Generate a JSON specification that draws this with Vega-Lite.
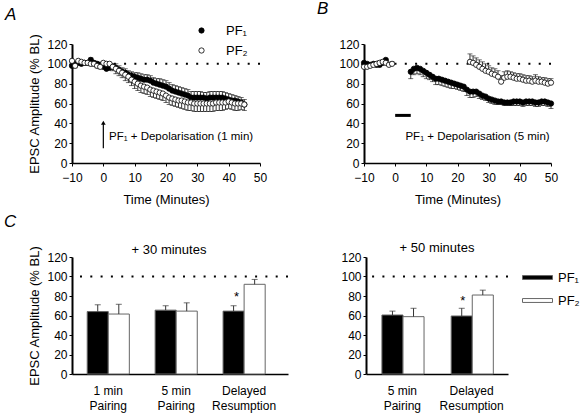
{
  "$schema": "https://vega.github.io/schema/vega-lite/v6.json",
  "padding": {"left": 3, "top": 0, "right": 2, "bottom": 2},
  "background": "white",
  "config": {
    "font": "Liberation Sans",
    "view": {"stroke": null},
    "axis": {"grid": false, "labelOverlap": false, "labelFlush": false, "labelSeparation": -40, "domainColor": "black", "tickColor": "black", "labelColor": "black", "titleColor": "black", "labelFontSize": 12, "titleFontSize": 13, "titleFontWeight": "normal", "labelFont": "Liberation Sans", "titleFont": "Liberation Sans", "domainWidth": 1.5, "tickSize": 3},
    "axisQuantitative": {"labelOverlap": false, "tickCount": 7},
    "title": {"font": "Liberation Sans", "fontWeight": "normal", "color": "black"},
    "legend": {"labelFont": "Liberation Sans", "labelColor": "black", "labelFontSize": 13}
  },
  "datasets": {
    "tsA": [
      {"t":-10,"s":"PF₁","v":98,"eb":100},{"t":-9,"s":"PF₁","v":100,"eb":102},{"t":-8,"s":"PF₁","v":101,"eb":103},{"t":-7,"s":"PF₁","v":100,"eb":102},{"t":-6,"s":"PF₁","v":101,"eb":103},{"t":-5,"s":"PF₁","v":101,"eb":103},{"t":-4,"s":"PF₁","v":104,"eb":106},{"t":-3,"s":"PF₁","v":101,"eb":103},{"t":-2,"s":"PF₁","v":100,"eb":102},{"t":-1,"s":"PF₁","v":99,"eb":101},
      {"t":0,"s":"PF₁","v":97,"eb":100},{"t":1,"s":"PF₁","v":95,"eb":98},{"t":2,"s":"PF₁","v":96,"eb":99},{"t":3,"s":"PF₁","v":97,"eb":100},{"t":4,"s":"PF₁","v":96,"eb":100},{"t":5,"s":"PF₁","v":94,"eb":98},{"t":6,"s":"PF₁","v":92,"eb":96},{"t":7,"s":"PF₁","v":91,"eb":95},{"t":8,"s":"PF₁","v":89,"eb":93},{"t":9,"s":"PF₁","v":88,"eb":92},
      {"t":10,"s":"PF₁","v":87,"eb":91},{"t":11,"s":"PF₁","v":86,"eb":91},{"t":12,"s":"PF₁","v":85,"eb":90},{"t":13,"s":"PF₁","v":84,"eb":89},{"t":14,"s":"PF₁","v":84,"eb":89},{"t":15,"s":"PF₁","v":83,"eb":88},{"t":16,"s":"PF₁","v":81,"eb":86},{"t":17,"s":"PF₁","v":80,"eb":85},{"t":18,"s":"PF₁","v":79,"eb":85},{"t":19,"s":"PF₁","v":78,"eb":84},
      {"t":20,"s":"PF₁","v":77,"eb":83},{"t":21,"s":"PF₁","v":75,"eb":81},{"t":22,"s":"PF₁","v":73,"eb":79},{"t":23,"s":"PF₁","v":72,"eb":78},{"t":24,"s":"PF₁","v":71,"eb":77},{"t":25,"s":"PF₁","v":70,"eb":76},{"t":26,"s":"PF₁","v":69,"eb":75},{"t":27,"s":"PF₁","v":68,"eb":74},{"t":28,"s":"PF₁","v":66,"eb":72},{"t":29,"s":"PF₁","v":66,"eb":72},
      {"t":30,"s":"PF₁","v":66,"eb":72},{"t":31,"s":"PF₁","v":66,"eb":72},{"t":32,"s":"PF₁","v":66,"eb":71},{"t":33,"s":"PF₁","v":65,"eb":71},{"t":34,"s":"PF₁","v":66,"eb":72},{"t":35,"s":"PF₁","v":66,"eb":72},{"t":36,"s":"PF₁","v":66,"eb":72},{"t":37,"s":"PF₁","v":66,"eb":72},{"t":38,"s":"PF₁","v":66,"eb":72},{"t":39,"s":"PF₁","v":65,"eb":71},
      {"t":40,"s":"PF₁","v":64,"eb":70},{"t":41,"s":"PF₁","v":63,"eb":69},{"t":42,"s":"PF₁","v":63,"eb":68},{"t":43,"s":"PF₁","v":62,"eb":67},{"t":44,"s":"PF₁","v":61,"eb":66},{"t":45,"s":"PF₁","v":59,"eb":64},
      {"t":-10,"s":"PF₂","v":103,"eb":101},{"t":-9,"s":"PF₂","v":98,"eb":96},{"t":-8,"s":"PF₂","v":103,"eb":101},{"t":-7,"s":"PF₂","v":102,"eb":100},{"t":-6,"s":"PF₂","v":101,"eb":99},{"t":-5,"s":"PF₂","v":101,"eb":99},{"t":-4,"s":"PF₂","v":100,"eb":98},{"t":-3,"s":"PF₂","v":100,"eb":98},{"t":-2,"s":"PF₂","v":98,"eb":96},{"t":-1,"s":"PF₂","v":97,"eb":95},
      {"t":0,"s":"PF₂","v":101,"eb":98},{"t":1,"s":"PF₂","v":100,"eb":97},{"t":2,"s":"PF₂","v":100,"eb":96},{"t":3,"s":"PF₂","v":97,"eb":93},{"t":4,"s":"PF₂","v":95,"eb":90},{"t":5,"s":"PF₂","v":93,"eb":88},{"t":6,"s":"PF₂","v":91,"eb":86},{"t":7,"s":"PF₂","v":89,"eb":83},{"t":8,"s":"PF₂","v":87,"eb":81},{"t":9,"s":"PF₂","v":84,"eb":78},
      {"t":10,"s":"PF₂","v":82,"eb":75},{"t":11,"s":"PF₂","v":80,"eb":73},{"t":12,"s":"PF₂","v":78,"eb":71},{"t":13,"s":"PF₂","v":77,"eb":70},{"t":14,"s":"PF₂","v":76,"eb":69},{"t":15,"s":"PF₂","v":74,"eb":67},{"t":16,"s":"PF₂","v":73,"eb":66},{"t":17,"s":"PF₂","v":72,"eb":65},{"t":18,"s":"PF₂","v":71,"eb":64},{"t":19,"s":"PF₂","v":70,"eb":63},
      {"t":20,"s":"PF₂","v":68,"eb":61},{"t":21,"s":"PF₂","v":66,"eb":59},{"t":22,"s":"PF₂","v":65,"eb":58},{"t":23,"s":"PF₂","v":64,"eb":57},{"t":24,"s":"PF₂","v":63,"eb":56},{"t":25,"s":"PF₂","v":63,"eb":55},{"t":26,"s":"PF₂","v":62,"eb":54},{"t":27,"s":"PF₂","v":61,"eb":53},{"t":28,"s":"PF₂","v":61,"eb":53},{"t":29,"s":"PF₂","v":60,"eb":52},
      {"t":30,"s":"PF₂","v":60,"eb":52},{"t":31,"s":"PF₂","v":60,"eb":52},{"t":32,"s":"PF₂","v":60,"eb":52},{"t":33,"s":"PF₂","v":60,"eb":52},{"t":34,"s":"PF₂","v":60,"eb":52},{"t":35,"s":"PF₂","v":60,"eb":52},{"t":36,"s":"PF₂","v":61,"eb":53},{"t":37,"s":"PF₂","v":61,"eb":53},{"t":38,"s":"PF₂","v":61,"eb":53},{"t":39,"s":"PF₂","v":61,"eb":54},
      {"t":40,"s":"PF₂","v":62,"eb":55},{"t":41,"s":"PF₂","v":61,"eb":54},{"t":42,"s":"PF₂","v":60,"eb":53},{"t":43,"s":"PF₂","v":60,"eb":53},{"t":44,"s":"PF₂","v":60,"eb":54},{"t":45,"s":"PF₂","v":59,"eb":53}
    ],
    "tsB": [
      {"t":-10,"s":"PF₁","v":101,"eb":99},{"t":-9,"s":"PF₁","v":100,"eb":98},{"t":-8,"s":"PF₁","v":99,"eb":97},{"t":-7,"s":"PF₁","v":100,"eb":98},{"t":-6,"s":"PF₁","v":99,"eb":97},{"t":-5,"s":"PF₁","v":99,"eb":97},{"t":-4,"s":"PF₁","v":101,"eb":99},{"t":-3,"s":"PF₁","v":104,"eb":102},
      {"t":5,"s":"PF₁","v":92,"eb":85},{"t":6,"s":"PF₁","v":95,"eb":89},{"t":7,"s":"PF₁","v":96,"eb":90},{"t":8,"s":"PF₁","v":95,"eb":89},{"t":9,"s":"PF₁","v":93,"eb":87},{"t":10,"s":"PF₁","v":91,"eb":85},{"t":11,"s":"PF₁","v":89,"eb":84},{"t":12,"s":"PF₁","v":87,"eb":82},{"t":13,"s":"PF₁","v":85,"eb":79},{"t":14,"s":"PF₁","v":85,"eb":79},
      {"t":15,"s":"PF₁","v":84,"eb":78},{"t":16,"s":"PF₁","v":83,"eb":77},{"t":17,"s":"PF₁","v":82,"eb":76},{"t":18,"s":"PF₁","v":81,"eb":75},{"t":19,"s":"PF₁","v":80,"eb":75},{"t":20,"s":"PF₁","v":79,"eb":74},{"t":21,"s":"PF₁","v":78,"eb":73},{"t":22,"s":"PF₁","v":77,"eb":72},{"t":23,"s":"PF₁","v":74,"eb":68},{"t":24,"s":"PF₁","v":72,"eb":66},
      {"t":25,"s":"PF₁","v":72,"eb":66},{"t":26,"s":"PF₁","v":72,"eb":67},{"t":27,"s":"PF₁","v":70,"eb":65},{"t":28,"s":"PF₁","v":68,"eb":64},{"t":29,"s":"PF₁","v":67,"eb":63},{"t":30,"s":"PF₁","v":65,"eb":61},{"t":31,"s":"PF₁","v":64,"eb":60},{"t":32,"s":"PF₁","v":63,"eb":59},{"t":33,"s":"PF₁","v":62,"eb":59},{"t":34,"s":"PF₁","v":62,"eb":59},
      {"t":35,"s":"PF₁","v":61,"eb":58},{"t":36,"s":"PF₁","v":61,"eb":58},{"t":37,"s":"PF₁","v":61,"eb":58},{"t":38,"s":"PF₁","v":62,"eb":58},{"t":39,"s":"PF₁","v":62,"eb":58},{"t":40,"s":"PF₁","v":62,"eb":58},{"t":41,"s":"PF₁","v":61,"eb":57},{"t":42,"s":"PF₁","v":62,"eb":58},{"t":43,"s":"PF₁","v":62,"eb":58},{"t":44,"s":"PF₁","v":62,"eb":58},
      {"t":45,"s":"PF₁","v":61,"eb":57},{"t":46,"s":"PF₁","v":61,"eb":57},{"t":47,"s":"PF₁","v":62,"eb":58},{"t":48,"s":"PF₁","v":62,"eb":58},{"t":49,"s":"PF₁","v":61,"eb":57},{"t":50,"s":"PF₁","v":60,"eb":55},
      {"t":-10,"s":"PF₂","v":97,"eb":99},{"t":-9,"s":"PF₂","v":97,"eb":99},{"t":-8,"s":"PF₂","v":98,"eb":100},{"t":-7,"s":"PF₂","v":99,"eb":101},{"t":-6,"s":"PF₂","v":100,"eb":102},{"t":-5,"s":"PF₂","v":101,"eb":103},{"t":-4,"s":"PF₂","v":102,"eb":104},{"t":-3,"s":"PF₂","v":101,"eb":103},{"t":-2,"s":"PF₂","v":99,"eb":101},{"t":-1,"s":"PF₂","v":100,"eb":102},
      {"t":24,"s":"PF₂","v":102,"eb":110},{"t":25,"s":"PF₂","v":101,"eb":108},{"t":26,"s":"PF₂","v":99,"eb":106},{"t":27,"s":"PF₂","v":97,"eb":104},{"t":28,"s":"PF₂","v":95,"eb":102},{"t":29,"s":"PF₂","v":93,"eb":100},{"t":30,"s":"PF₂","v":92,"eb":98},{"t":31,"s":"PF₂","v":90,"eb":96},{"t":32,"s":"PF₂","v":89,"eb":95},{"t":33,"s":"PF₂","v":87,"eb":93},
      {"t":34,"s":"PF₂","v":82,"eb":88},{"t":35,"s":"PF₂","v":86,"eb":92},{"t":36,"s":"PF₂","v":87,"eb":93},{"t":37,"s":"PF₂","v":87,"eb":92},{"t":38,"s":"PF₂","v":86,"eb":91},{"t":39,"s":"PF₂","v":85,"eb":90},{"t":40,"s":"PF₂","v":85,"eb":90},{"t":41,"s":"PF₂","v":84,"eb":89},{"t":42,"s":"PF₂","v":83,"eb":88},{"t":43,"s":"PF₂","v":83,"eb":88},
      {"t":44,"s":"PF₂","v":82,"eb":87},{"t":45,"s":"PF₂","v":83,"eb":89},{"t":46,"s":"PF₂","v":82,"eb":87},{"t":47,"s":"PF₂","v":82,"eb":86},{"t":48,"s":"PF₂","v":81,"eb":86},{"t":49,"s":"PF₂","v":80,"eb":85},{"t":50,"s":"PF₂","v":81,"eb":85}
    ],
    "c30": [
      {"cat":"1 min|Pairing","s":"PF₁","v":64,"eb":71},{"cat":"1 min|Pairing","s":"PF₂","v":61.5,"eb":71.5},
      {"cat":"5 min|Pairing","s":"PF₁","v":65.5,"eb":70},{"cat":"5 min|Pairing","s":"PF₂","v":64.5,"eb":73},
      {"cat":"Delayed|Resumption","s":"PF₁","v":64.5,"eb":70},{"cat":"Delayed|Resumption","s":"PF₂","v":92,"eb":97}
    ],
    "c50": [
      {"cat":"5 min|Pairing","s":"PF₁","v":60.5,"eb":64.5},{"cat":"5 min|Pairing","s":"PF₂","v":58.8,"eb":67.4},
      {"cat":"Delayed|Resumption","s":"PF₁","v":59.5,"eb":67.4},{"cat":"Delayed|Resumption","s":"PF₂","v":81,"eb":86}
    ]
  },
  "spacing": 7,
  "resolve": {"scale": {"fill": "independent", "x": "independent", "y": "independent"}, "legend": {"fill": "independent"}},
  "vconcat": [
    {
      "spacing": 50,
      "resolve": {"scale": {"fill": "independent", "x": "independent", "y": "independent"}, "legend": {"fill": "independent"}},
      "hconcat": [
        {
          "width": 188, "height": 119,
          "title": {"text": "A", "anchor": "start", "frame": "group", "fontSize": 17, "fontStyle": "italic", "dx": -67, "offset": 0},
          "layer": [
            {"data": {"values": [{"ref": 100}]}, "mark": {"type": "rule", "strokeDash": [2, 8.3], "strokeWidth": 2, "color": "black"},
             "encoding": {"y": {"field": "ref", "type": "quantitative", "scale": {"domain": [0, 120]}, "axis": {"title": "EPSC Amplitude (% BL)", "values": [0, 20, 40, 60, 80, 100, 120], "labelOverlap": false, "titlePadding": 5, "labelPadding": 2, "domainWidth": 2}}}},
            {"data": {"name": "tsA"}, "mark": {"type": "rule", "color": "black", "strokeWidth": 0.8},
             "encoding": {
               "x": {"field": "t", "type": "quantitative", "scale": {"domain": [-10, 50], "nice": false}, "axis": {"title": "Time (Minutes)", "values": [-10, 0, 10, 20, 30, 40, 50], "labelOverlap": false, "labelPadding": 6, "titlePadding": 10}},
               "y": {"field": "v", "type": "quantitative", "axis": {"title": "EPSC Amplitude (% BL)", "values": [0, 20, 40, 60, 80, 100, 120], "labelOverlap": false, "titlePadding": 5, "labelPadding": 2, "domainWidth": 2}}, "y2": {"field": "eb"}}},
            {"data": {"name": "tsA"}, "mark": {"type": "tick", "orient": "horizontal", "color": "black", "size": 5, "thickness": 0.8},
             "encoding": {
               "x": {"field": "t", "type": "quantitative", "axis": {"title": "Time (Minutes)", "values": [-10, 0, 10, 20, 30, 40, 50], "labelOverlap": false, "labelPadding": 6, "titlePadding": 10}},
               "y": {"field": "eb", "type": "quantitative", "axis": {"title": "EPSC Amplitude (% BL)", "values": [0, 20, 40, 60, 80, 100, 120], "labelOverlap": false, "titlePadding": 5, "labelPadding": 2, "domainWidth": 2}}}},
            {"data": {"name": "tsA"}, "mark": {"type": "point", "filled": true, "stroke": "black", "strokeWidth": 0.8, "size": 28, "opacity": 1},
             "encoding": {
               "x": {"field": "t", "type": "quantitative", "axis": {"title": "Time (Minutes)", "values": [-10, 0, 10, 20, 30, 40, 50], "labelOverlap": false, "labelPadding": 6, "titlePadding": 10}},
               "y": {"field": "v", "type": "quantitative", "axis": {"title": "EPSC Amplitude (% BL)", "values": [0, 20, 40, 60, 80, 100, 120], "labelOverlap": false, "titlePadding": 5, "labelPadding": 2, "domainWidth": 2}},
               "fill": {"field": "s", "type": "nominal", "scale": {"domain": ["PF₁", "PF₂"], "range": ["black", "white"]},
                 "legend": {"orient": "none", "legendX": 123, "legendY": -20, "title": null, "symbolType": "circle", "symbolSize": 28, "symbolStrokeColor": "black", "symbolStrokeWidth": 0.8, "labelFontSize": 13, "labelOffset": 18, "rowPadding": 6}}
             }},
            {"data": {"values": [{"t": 0, "a": 15, "b": 40}]}, "mark": {"type": "rule", "color": "black", "strokeWidth": 1.2},
             "encoding": {"x": {"field": "t", "type": "quantitative", "axis": {"title": "Time (Minutes)", "values": [-10, 0, 10, 20, 30, 40, 50], "labelOverlap": false, "labelPadding": 6, "titlePadding": 10}}, "y": {"field": "a", "type": "quantitative", "axis": {"title": "EPSC Amplitude (% BL)", "values": [0, 20, 40, 60, 80, 100, 120], "labelOverlap": false, "titlePadding": 5, "labelPadding": 2, "domainWidth": 2}}, "y2": {"field": "b"}}},
            {"data": {"values": [{"t": 0, "b": 40.5}]}, "mark": {"type": "point", "shape": "triangle-up", "filled": true, "color": "black", "size": 22, "opacity": 1},
             "encoding": {"x": {"field": "t", "type": "quantitative", "axis": {"title": "Time (Minutes)", "values": [-10, 0, 10, 20, 30, 40, 50], "labelOverlap": false, "labelPadding": 6, "titlePadding": 10}}, "y": {"field": "b", "type": "quantitative", "axis": {"title": "EPSC Amplitude (% BL)", "values": [0, 20, 40, 60, 80, 100, 120], "labelOverlap": false, "titlePadding": 5, "labelPadding": 2, "domainWidth": 2}}}},
            {"data": {"values": [{"t": 1.8, "y": 26, "label": "PF₁ + Depolarisation (1 min)"}]}, "mark": {"type": "text", "align": "left", "baseline": "middle", "fontSize": 11.5, "color": "black"},
             "encoding": {"x": {"field": "t", "type": "quantitative", "axis": {"title": "Time (Minutes)", "values": [-10, 0, 10, 20, 30, 40, 50], "labelOverlap": false, "labelPadding": 6, "titlePadding": 10}}, "y": {"field": "y", "type": "quantitative", "axis": {"title": "EPSC Amplitude (% BL)", "values": [0, 20, 40, 60, 80, 100, 120], "labelOverlap": false, "titlePadding": 5, "labelPadding": 2, "domainWidth": 2}}, "text": {"field": "label"}}}
          ]
        },
        {
          "width": 187, "height": 119,
          "title": {"text": "B", "anchor": "start", "frame": "group", "fontSize": 17, "fontStyle": "italic", "dx": -47, "offset": 20},
          "layer": [
            {"data": {"values": [{"ref": 100}]}, "mark": {"type": "rule", "strokeDash": [2, 8.3], "strokeWidth": 2, "color": "black"},
             "encoding": {"y": {"field": "ref", "type": "quantitative", "scale": {"domain": [0, 120]}, "axis": {"title": null, "values": [0, 20, 40, 60, 80, 100, 120], "labelOverlap": false, "labelPadding": 2, "domainWidth": 2}}}},
            {"data": {"name": "tsB"}, "mark": {"type": "rule", "color": "black", "strokeWidth": 0.8},
             "encoding": {
               "x": {"field": "t", "type": "quantitative", "scale": {"domain": [-10, 50], "nice": false}, "axis": {"title": "Time (Minutes)", "values": [-10, 0, 10, 20, 30, 40, 50], "labelOverlap": false, "labelPadding": 6, "titlePadding": 10}},
               "y": {"field": "v", "type": "quantitative", "axis": {"title": null, "values": [0, 20, 40, 60, 80, 100, 120], "labelOverlap": false, "labelPadding": 2, "domainWidth": 2}}, "y2": {"field": "eb"}}},
            {"data": {"name": "tsB"}, "mark": {"type": "tick", "orient": "horizontal", "color": "black", "size": 5, "thickness": 0.8},
             "encoding": {
               "x": {"field": "t", "type": "quantitative", "axis": {"title": "Time (Minutes)", "values": [-10, 0, 10, 20, 30, 40, 50], "labelOverlap": false, "labelPadding": 6, "titlePadding": 10}},
               "y": {"field": "eb", "type": "quantitative", "axis": {"title": null, "values": [0, 20, 40, 60, 80, 100, 120], "labelOverlap": false, "labelPadding": 2, "domainWidth": 2}}}},
            {"data": {"name": "tsB"}, "mark": {"type": "point", "filled": true, "stroke": "black", "strokeWidth": 0.8, "size": 28, "opacity": 1},
             "encoding": {
               "x": {"field": "t", "type": "quantitative", "axis": {"title": "Time (Minutes)", "values": [-10, 0, 10, 20, 30, 40, 50], "labelOverlap": false, "labelPadding": 6, "titlePadding": 10}},
               "y": {"field": "v", "type": "quantitative", "axis": {"title": null, "values": [0, 20, 40, 60, 80, 100, 120], "labelOverlap": false, "labelPadding": 2, "domainWidth": 2}},
               "fill": {"field": "s", "type": "nominal", "scale": {"domain": ["PF₁", "PF₂"], "range": ["black", "white"]}, "legend": null}
             }},
            {"data": {"values": [{"a": 0, "b": 5, "y": 48}]}, "mark": {"type": "rule", "color": "black", "strokeWidth": 3},
             "encoding": {"x": {"field": "a", "type": "quantitative", "axis": {"title": "Time (Minutes)", "values": [-10, 0, 10, 20, 30, 40, 50], "labelOverlap": false, "labelPadding": 6, "titlePadding": 10}}, "x2": {"field": "b"}, "y": {"field": "y", "type": "quantitative", "axis": {"title": null, "values": [0, 20, 40, 60, 80, 100, 120], "labelOverlap": false, "labelPadding": 2, "domainWidth": 2}}}},
            {"data": {"values": [{"t": 3.3, "y": 26, "label": "PF₁ + Depolarisation (5 min)"}]}, "mark": {"type": "text", "align": "left", "baseline": "middle", "fontSize": 11.5, "color": "black"},
             "encoding": {"x": {"field": "t", "type": "quantitative", "axis": {"title": "Time (Minutes)", "values": [-10, 0, 10, 20, 30, 40, 50], "labelOverlap": false, "labelPadding": 6, "titlePadding": 10}}, "y": {"field": "y", "type": "quantitative", "axis": {"title": null, "values": [0, 20, 40, 60, 80, 100, 120], "labelOverlap": false, "labelPadding": 2, "domainWidth": 2}}, "text": {"field": "label"}}}
          ]
        }
      ]
    },
    {
      "spacing": 51,
      "title": {"text": "C", "anchor": "start", "fontSize": 17, "fontStyle": "italic", "dx": -25, "offset": 11},
      "resolve": {"scale": {"fill": "independent", "x": "independent", "y": "independent"}, "legend": {"fill": "independent"}},
      "hconcat": [
        {
          "width": 216, "height": 117,
          "title": {"text": "+ 30 minutes", "frame": "group", "fontSize": 13, "offset": -12, "dx": -11},
          "data": {"name": "c30"},
          "encoding": {
            "x": {"field": "cat", "type": "nominal", "sort": null, "scale": {"paddingInner": 0.38, "paddingOuter": 0.28, "align": 0.4}, "axis": {"title": null, "labelAngle": 0, "ticks": false, "labelPadding": 11, "labelLineHeight": 15, "labelOverlap": false, "labelExpr": "split(datum.label, '|')", "domainWidth": 1.5}},
            "xOffset": {"field": "s", "type": "nominal", "scale": {"domain": ["PF₁", "PF₂"], "paddingInner": 0, "paddingOuter": 0}}
          },
          "layer": [
            {"data": {"values": [{"v": 100}]}, "mark": {"type": "rule", "strokeDash": [2, 8.3], "strokeWidth": 2, "color": "black"},
             "encoding": {"x": null, "xOffset": null, "y": {"field": "v", "type": "quantitative", "scale": {"domain": [0, 120]}, "axis": {"title": "EPSC Amplitude (% BL)", "values": [0, 20, 40, 60, 80, 100, 120], "labelOverlap": false, "titlePadding": 5, "labelPadding": 2, "domainWidth": 2}}}},
            {"mark": {"type": "bar", "stroke": "#666", "strokeWidth": 1},
             "encoding": {
               "y": {"field": "v", "type": "quantitative", "axis": {"title": "EPSC Amplitude (% BL)", "values": [0, 20, 40, 60, 80, 100, 120], "labelOverlap": false, "titlePadding": 5, "labelPadding": 2, "domainWidth": 2}},
               "fill": {"field": "s", "type": "nominal", "scale": {"domain": ["PF₁", "PF₂"], "range": ["black", "white"]}, "legend": null}
             }},
            {"mark": {"type": "rule", "color": "#333", "strokeWidth": 1, "xOffset": 7},
             "encoding": {"y": {"field": "v", "type": "quantitative", "axis": {"title": "EPSC Amplitude (% BL)", "values": [0, 20, 40, 60, 80, 100, 120], "labelOverlap": false, "titlePadding": 5, "labelPadding": 2, "domainWidth": 2}}, "y2": {"field": "eb"}}},
            {"mark": {"type": "tick", "orient": "horizontal", "color": "#333", "size": 6, "thickness": 1, "xOffset": 7},
             "encoding": {"y": {"field": "eb", "type": "quantitative", "axis": {"title": "EPSC Amplitude (% BL)", "values": [0, 20, 40, 60, 80, 100, 120], "labelOverlap": false, "titlePadding": 5, "labelPadding": 2, "domainWidth": 2}}}},
            {"data": {"values": [{"cat": "Delayed|Resumption", "s": "PF₁", "v": 79, "label": "*"}]}, "mark": {"type": "text", "fontSize": 13, "baseline": "middle", "color": "black", "dx": 3},
             "encoding": {"y": {"field": "v", "type": "quantitative", "axis": {"title": "EPSC Amplitude (% BL)", "values": [0, 20, 40, 60, 80, 100, 120], "labelOverlap": false, "titlePadding": 5, "labelPadding": 2, "domainWidth": 2}}, "text": {"field": "label"}}}
          ]
        },
        {
          "width": 142, "height": 117,
          "title": {"text": "+ 50 minutes", "frame": "group", "fontSize": 13, "offset": -4},
          "data": {"name": "c50"},
          "encoding": {
            "x": {"field": "cat", "type": "nominal", "sort": null, "scale": {"paddingInner": 0.41, "paddingOuter": 0.23, "align": 0.5}, "axis": {"title": null, "labelAngle": 0, "ticks": false, "labelPadding": 11, "labelLineHeight": 15, "labelOverlap": false, "labelExpr": "split(datum.label, '|')", "domainWidth": 1.5}},
            "xOffset": {"field": "s", "type": "nominal", "scale": {"domain": ["PF₁", "PF₂"], "paddingInner": 0, "paddingOuter": 0}}
          },
          "layer": [
            {"data": {"values": [{"v": 100}]}, "mark": {"type": "rule", "strokeDash": [2, 8.3], "strokeWidth": 2, "color": "black"},
             "encoding": {"x": null, "xOffset": null, "y": {"field": "v", "type": "quantitative", "scale": {"domain": [0, 120]}, "axis": {"title": null, "values": [0, 20, 40, 60, 80, 100, 120], "labelOverlap": false, "labelPadding": 2, "domainWidth": 2}}}},
            {"mark": {"type": "bar", "stroke": "#666", "strokeWidth": 1},
             "encoding": {
               "y": {"field": "v", "type": "quantitative", "axis": {"title": null, "values": [0, 20, 40, 60, 80, 100, 120], "labelOverlap": false, "labelPadding": 2, "domainWidth": 2}},
               "fill": {"field": "s", "type": "nominal", "scale": {"domain": ["PF₁", "PF₂"], "range": ["black", "white"]},
                 "legend": {"orient": "none", "legendX": 156, "legendY": 5, "title": null, "symbolType": "M-1,-0.13H1V0.13H-1Z", "symbolSize": 900, "symbolStrokeColor": "#666", "symbolStrokeWidth": 1, "labelFontSize": 13, "labelOffset": 5, "rowPadding": -17}}
             }},
            {"mark": {"type": "rule", "color": "#333", "strokeWidth": 1, "xOffset": 7},
             "encoding": {"y": {"field": "v", "type": "quantitative", "axis": {"title": null, "values": [0, 20, 40, 60, 80, 100, 120], "labelOverlap": false, "labelPadding": 2, "domainWidth": 2}}, "y2": {"field": "eb"}}},
            {"mark": {"type": "tick", "orient": "horizontal", "color": "#333", "size": 6, "thickness": 1, "xOffset": 7},
             "encoding": {"y": {"field": "eb", "type": "quantitative", "axis": {"title": null, "values": [0, 20, 40, 60, 80, 100, 120], "labelOverlap": false, "labelPadding": 2, "domainWidth": 2}}}},
            {"data": {"values": [{"cat": "Delayed|Resumption", "s": "PF₁", "v": 75, "label": "*"}]}, "mark": {"type": "text", "fontSize": 13, "baseline": "middle", "color": "black", "dx": 1},
             "encoding": {"y": {"field": "v", "type": "quantitative", "axis": {"title": null, "values": [0, 20, 40, 60, 80, 100, 120], "labelOverlap": false, "labelPadding": 2, "domainWidth": 2}}, "text": {"field": "label"}}}
          ]
        }
      ]
    }
  ]
}
